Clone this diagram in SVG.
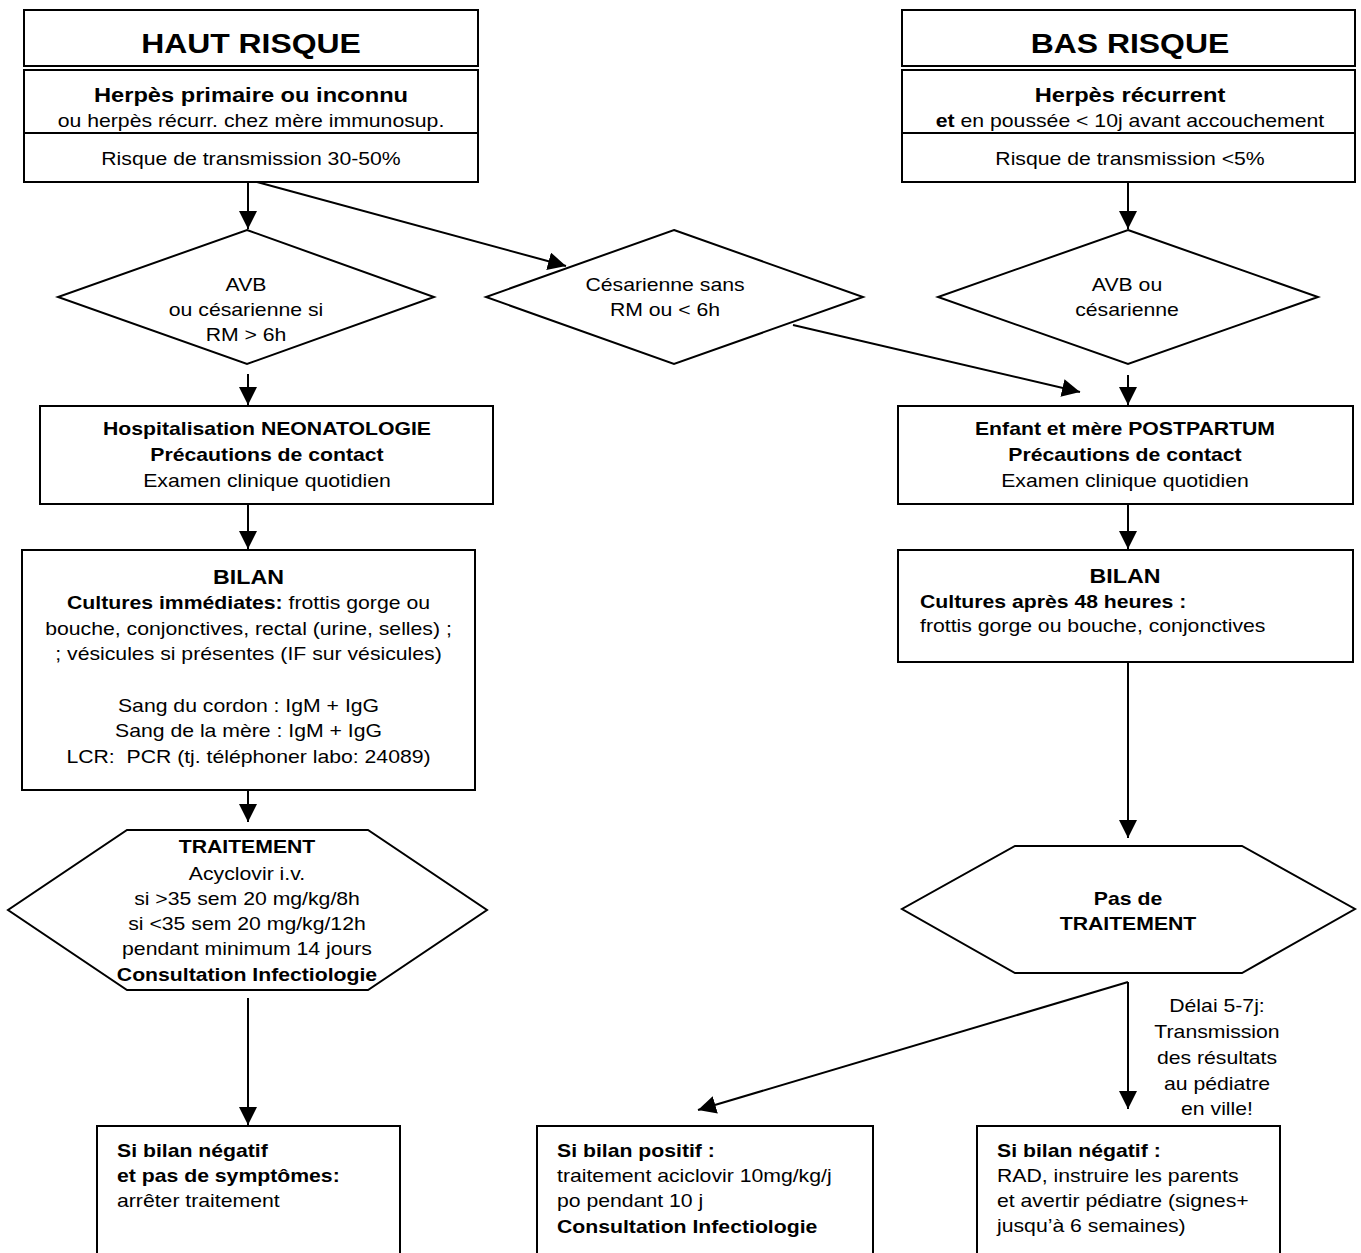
<svg xmlns="http://www.w3.org/2000/svg" width="1361" height="1253" viewBox="0 0 1361 1253">
<defs>
<style>
.s{fill:#fff;stroke:#000;stroke-width:2}
.l{fill:none;stroke:#000;stroke-width:2}
.t{font-family:"Liberation Sans",Arial,Helvetica,sans-serif;font-size:18.3px;fill:#000}
.c{text-anchor:middle}
.b{font-weight:bold}
.h{font-size:27.5px;font-weight:bold}
.m{font-size:20.4px;font-weight:bold}
.bt{font-size:20px;font-weight:bold}
</style>
<marker id="ah" markerUnits="userSpaceOnUse" markerWidth="18" markerHeight="18" refX="18" refY="9" orient="auto" viewBox="0 0 18 18">
<path d="M0,0 L18,9 L0,18 Z" fill="#000"/>
</marker>
</defs>
<rect width="1361" height="1253" fill="#fff"/>

<g id="connectors">
<line class="l" x1="248" y1="182" x2="248" y2="229" marker-end="url(#ah)"/>
<line class="l" x1="257" y1="182" x2="566" y2="266" marker-end="url(#ah)"/>
<line class="l" x1="1128" y1="182" x2="1128" y2="229" marker-end="url(#ah)"/>
<line class="l" x1="248" y1="374" x2="248" y2="405" marker-end="url(#ah)"/>
<line class="l" x1="1128" y1="375" x2="1128" y2="405" marker-end="url(#ah)"/>
<line class="l" x1="793" y1="325" x2="1080" y2="392" marker-end="url(#ah)"/>
<line class="l" x1="248" y1="504" x2="248" y2="549" marker-end="url(#ah)"/>
<line class="l" x1="1128" y1="504" x2="1128" y2="549" marker-end="url(#ah)"/>
<line class="l" x1="248" y1="790" x2="248" y2="822" marker-end="url(#ah)"/>
<line class="l" x1="1128" y1="662" x2="1128" y2="838" marker-end="url(#ah)"/>
<line class="l" x1="248" y1="998" x2="248" y2="1125" marker-end="url(#ah)"/>
<line class="l" x1="1128" y1="982" x2="1128" y2="1109" marker-end="url(#ah)"/>
<line class="l" x1="1128" y1="982" x2="698" y2="1110" marker-end="url(#ah)"/>
<text class="t c" transform="matrix(1.16 0 0 1 1217 0)"><tspan x="0" y="1012">Délai 5-7j:</tspan><tspan x="0" y="1038">Transmission</tspan><tspan x="0" y="1064">des résultats</tspan><tspan x="0" y="1090">au pédiatre</tspan><tspan x="0" y="1115">en ville!</tspan></text>
</g>

<g id="haut-risque">
<rect class="s" x="24" y="10" width="454" height="56"/>
<text class="t c h" transform="matrix(1.16 0 0 1 251 0)"><tspan x="0" y="53">HAUT RISQUE</tspan></text>
</g>
<g id="herpes-primaire">
<rect class="s" x="24" y="70" width="454" height="112"/>
<line class="l" x1="24" y1="133" x2="478" y2="133"/>
<text class="t c" transform="matrix(1.16 0 0 1 251 0)"><tspan x="0" y="102" class="m">Herpès primaire ou inconnu</tspan><tspan x="0" y="127">ou herpès récurr. chez mère immunosup.</tspan><tspan x="0" y="165">Risque de transmission 30-50%</tspan></text>
</g>

<g id="bas-risque">
<rect class="s" x="902" y="10" width="453" height="56"/>
<text class="t c h" transform="matrix(1.16 0 0 1 1130 0)"><tspan x="0" y="53">BAS RISQUE</tspan></text>
</g>
<g id="herpes-recurrent">
<rect class="s" x="902" y="70" width="453" height="112"/>
<line class="l" x1="902" y1="133" x2="1355" y2="133"/>
<text class="t c" transform="matrix(1.16 0 0 1 1130 0)"><tspan x="0" y="102" class="m">Herpès récurrent</tspan><tspan x="0" y="127"><tspan class="b">et</tspan> en poussée &lt; 10j avant accouchement</tspan><tspan x="0" y="165">Risque de transmission &lt;5%</tspan></text>
</g>

<g id="avb-left">
<polygon class="s" points="247,230 434,297 247,364 58,297"/>
<text class="t c" transform="matrix(1.16 0 0 1 246 0)"><tspan x="0" y="291">AVB</tspan><tspan x="0" y="316">ou césarienne si</tspan><tspan x="0" y="341">RM &gt; 6h</tspan></text>
</g>
<g id="cesarienne">
<polygon class="s" points="674,230 863,297 674,364 486,297"/>
<text class="t c" transform="matrix(1.16 0 0 1 665 0)"><tspan x="0" y="291">Césarienne sans</tspan><tspan x="0" y="316">RM ou &lt; 6h</tspan></text>
</g>
<g id="avb-right">
<polygon class="s" points="1128,230 1318,297 1128,364 938,297"/>
<text class="t c" transform="matrix(1.16 0 0 1 1127 0)"><tspan x="0" y="291">AVB ou</tspan><tspan x="0" y="316">césarienne</tspan></text>
</g>

<g id="hospitalisation">
<rect class="s" x="40" y="406" width="453" height="98"/>
<text class="t c" transform="matrix(1.16 0 0 1 267 0)"><tspan x="0" y="435" class="b">Hospitalisation NEONATOLOGIE</tspan><tspan x="0" y="461" class="b">Précautions de contact</tspan><tspan x="0" y="487">Examen clinique quotidien</tspan></text>
</g>
<g id="postpartum">
<rect class="s" x="898" y="406" width="455" height="98"/>
<text class="t c" transform="matrix(1.16 0 0 1 1125 0)"><tspan x="0" y="435" class="b">Enfant et mère POSTPARTUM</tspan><tspan x="0" y="461" class="b">Précautions de contact</tspan><tspan x="0" y="487">Examen clinique quotidien</tspan></text>
</g>

<g id="bilan-left">
<rect class="s" x="22" y="550" width="453" height="240"/>
<text class="t c" transform="matrix(1.16 0 0 1 248.5 0)"><tspan x="0" y="584" class="bt">BILAN</tspan><tspan x="0" y="609"><tspan class="b">Cultures immédiates:</tspan> frottis gorge ou</tspan><tspan x="0" y="635">bouche, conjonctives, rectal (urine, selles) ;</tspan><tspan x="0" y="660">; vésicules si présentes (IF sur vésicules)</tspan><tspan x="0" y="712">Sang du cordon : IgM + IgG</tspan><tspan x="0" y="737">Sang de la mère : IgM + IgG</tspan><tspan x="0" y="763">LCR:&#160; PCR (tj. téléphoner labo: 24089)</tspan></text>
</g>
<g id="bilan-right">
<rect class="s" x="898" y="550" width="455" height="112"/>
<text class="t c" transform="matrix(1.16 0 0 1 1125 0)"><tspan x="0" y="583" class="bt">BILAN</tspan></text>
<text class="t" transform="matrix(1.16 0 0 1 920 0)"><tspan x="0" y="608" class="b">Cultures après 48 heures :</tspan><tspan x="0" y="632">frottis gorge ou bouche, conjonctives</tspan></text>
</g>

<g id="traitement">
<polygon class="s" points="127,830 368,830 487,910 368,990 127,990 8,910"/>
<text class="t c" transform="matrix(1.16 0 0 1 247 0)"><tspan x="0" y="853" class="b">TRAITEMENT</tspan><tspan x="0" y="880">Acyclovir i.v.</tspan><tspan x="0" y="905">si &gt;35 sem 20 mg/kg/8h</tspan><tspan x="0" y="930">si &lt;35 sem 20 mg/kg/12h</tspan><tspan x="0" y="955">pendant minimum 14 jours</tspan><tspan x="0" y="981" class="b">Consultation Infectiologie</tspan></text>
</g>
<g id="pas-traitement">
<polygon class="s" points="1015,846 1242,846 1355,909 1242,973 1015,973 902,909"/>
<text class="t c b" transform="matrix(1.16 0 0 1 1128 0)"><tspan x="0" y="905">Pas de</tspan><tspan x="0" y="930">TRAITEMENT</tspan></text>
</g>

<g id="stop-traitement">
<rect class="s" x="97" y="1126" width="303" height="140"/>
<text class="t" transform="matrix(1.16 0 0 1 117 0)"><tspan x="0" y="1157" class="b">Si bilan négatif</tspan><tspan x="0" y="1182" class="b">et pas de symptômes:</tspan><tspan x="0" y="1207">arrêter traitement</tspan></text>
</g>
<g id="bilan-positif">
<rect class="s" x="537" y="1126" width="336" height="140"/>
<text class="t" transform="matrix(1.16 0 0 1 557 0)"><tspan x="0" y="1157" class="b">Si bilan positif :</tspan><tspan x="0" y="1182">traitement aciclovir 10mg/kg/j</tspan><tspan x="0" y="1207">po pendant 10 j</tspan><tspan x="0" y="1233" class="b">Consultation Infectiologie</tspan></text>
</g>
<g id="bilan-negatif">
<rect class="s" x="977" y="1126" width="303" height="140"/>
<text class="t" transform="matrix(1.16 0 0 1 997 0)"><tspan x="0" y="1157" class="b">Si bilan négatif :</tspan><tspan x="0" y="1182">RAD, instruire les parents</tspan><tspan x="0" y="1207">et avertir pédiatre (signes+</tspan><tspan x="0" y="1232">jusqu’à 6 semaines)</tspan></text>
</g>
</svg>
